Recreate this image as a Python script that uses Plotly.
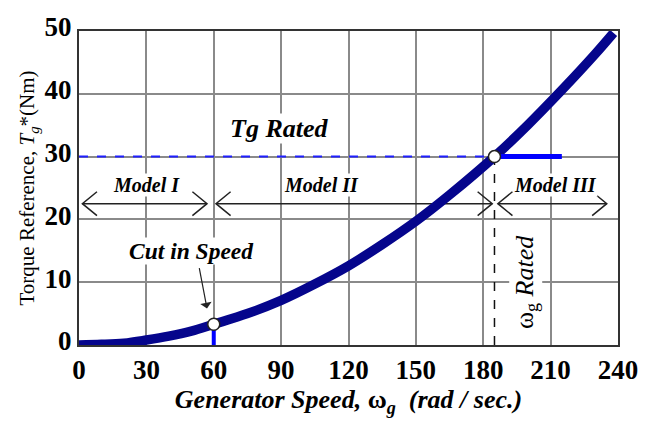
import plotly.graph_objects as go

# Generator torque reference vs. generator speed
speed = [0, 10, 20, 30, 40, 50, 60, 75, 90, 105, 120, 135, 150, 165, 185, 200, 215, 230, 238]
torque = [0, 0.1, 0.3, 0.8, 1.4, 2.2, 3.3, 5.0, 7.1, 9.7, 12.6, 16.0, 19.7, 23.9, 30.0, 35.1, 40.6, 46.4, 49.7]

x_ticks = [0, 30, 60, 90, 120, 150, 180, 210, 240]
y_ticks = [0, 10, 20, 30, 40, 50]

cut_in_speed = 60
cut_in_torque = 3.3
rated_speed = 185
rated_torque = 30
rated_stub_end = 215

# operating regions: (label, start, end, label x)
regions = [("Model I", 1.5, 57, 30), ("Model II", 61, 184, 108), ("Model III", 186.5, 235, 212)]
arrow_y = 22.5
label_y = 25.4

SERIF = "Liberation Serif"
fig = go.Figure()

# rated torque reference (dashed)
fig.add_trace(go.Scatter(x=[0, rated_speed], y=[rated_torque, rated_torque], mode="lines",
                         line=dict(color="#1f1fff", width=2, dash="dash"), hoverinfo="skip"))
# rated speed marker (dashed vertical)
fig.add_trace(go.Scatter(x=[rated_speed, rated_speed], y=[0, rated_torque], mode="lines",
                         line=dict(color="#111111", width=1.5, dash="dash"), hoverinfo="skip"))

# region arrows with open chevron heads
hx, hy = 6.5, 1.9
for name, a, b, lx in regions:
    xs = [a, b, None, a + hx, a, a + hx, None, b - hx, b, b - hx]
    ys = [arrow_y, arrow_y, None, arrow_y + hy, arrow_y, arrow_y - hy, None,
          arrow_y + hy, arrow_y, arrow_y - hy]
    fig.add_trace(go.Scatter(x=xs, y=ys, mode="lines", line=dict(color="#222222", width=1.5),
                             hoverinfo="skip"))
    fig.add_annotation(x=lx, y=label_y, text=f"<b><i>{name}</i></b>", showarrow=False,
                       font=dict(family=SERIF, size=20, color="black"), bgcolor="white",
                       borderpad=0)

# torque curve
fig.add_trace(go.Scatter(x=speed, y=torque, mode="lines",
                         line=dict(color="#05058c", width=9.5, shape="spline"), hoverinfo="skip"))

# cut-in stub and rated torque stub
fig.add_trace(go.Scatter(x=[cut_in_speed, cut_in_speed], y=[0, cut_in_torque], mode="lines",
                         line=dict(color="#0000ff", width=4), hoverinfo="skip"))
fig.add_trace(go.Scatter(x=[rated_speed, rated_stub_end], y=[rated_torque, rated_torque], mode="lines",
                         line=dict(color="#0000ff", width=5), hoverinfo="skip"))

# operating point markers
fig.add_trace(go.Scatter(x=[cut_in_speed, rated_speed], y=[cut_in_torque, rated_torque], mode="markers",
                         marker=dict(symbol="circle", size=12, color="white",
                                     line=dict(color="#222222", width=1.5)),
                         cliponaxis=False, hoverinfo="skip"))

fig.add_annotation(x=89, y=34.4, text="<b><i>Tg Rated</i></b>", showarrow=False,
                   font=dict(family=SERIF, size=26, color="black"), bgcolor="white", borderpad=0)
fig.add_annotation(x=50, y=15, text="<b><i>Cut in Speed</i></b>", showarrow=False,
                   font=dict(family=SERIF, size=23.5, color="black"), bgcolor="white", borderpad=0)
fig.add_annotation(x=57, y=5.8, ax=-8, ay=-42, text="", showarrow=True, arrowhead=1,
                   arrowsize=1.6, arrowwidth=1.2, arrowcolor="#222222")
fig.add_annotation(x=199, y=10, text="ω<sub>g</sub> <i>Rated</i>", textangle=-90, showarrow=False,
                   font=dict(family=SERIF, size=26, color="black"), bgcolor="white", borderpad=0)

axis_common = dict(showgrid=True, gridcolor="#8a8a8a", gridwidth=2, zeroline=False,
                   showline=True, linecolor="#333333", linewidth=2, mirror=True,
                   ticks="", ticklabeloverflow="allow",
                   tickfont=dict(family=SERIF, size=27, color="black"))

fig.update_layout(
    width=650, height=423, margin=dict(l=79, r=27, t=14, b=78),
    paper_bgcolor="white", plot_bgcolor="white", showlegend=False,
    xaxis=dict(range=[0, 240], tickvals=x_ticks, ticktext=[f"<b>{v}</b>" for v in x_ticks],
               title=dict(text="<b><i>Generator Speed, </i>ω<i><sub>g</sub>  (rad / sec.)</i></b>",
                          font=dict(family=SERIF, size=26, color="black"), standoff=2),
               **axis_common),
    yaxis=dict(range=[0, 50], tickvals=y_ticks, ticktext=[f"<b>{v}</b>" for v in y_ticks],
               ticklabelshift=-4,
               title=dict(text="Torque Reference, <i>T<sub>g</sub></i>*(Nm)",
                          font=dict(family=SERIF, size=21, color="black"), standoff=4),
               **axis_common),
)

fig.write_html("out.html")
